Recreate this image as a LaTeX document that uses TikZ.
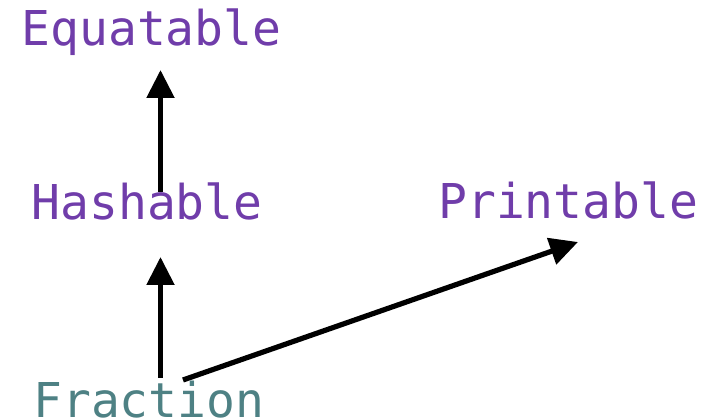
\documentclass[tikz,border=0pt]{standalone}
\usepackage{fontspec}
\newfontfamily\codefont{DejaVu Sans Mono}
\usetikzlibrary{arrows.meta}
\definecolor{protopurple}{HTML}{703DAA}
\definecolor{typeteal}{HTML}{4E8184}
\begin{document}
\begin{tikzpicture}[x=1pt,y=1pt,
  lbl/.style={anchor=base west, inner sep=0pt, outer sep=0pt, font=\codefont\fontsize{48}{56}\selectfont},
  proto/.style={lbl, text=protopurple},
  typ/.style={lbl, text=typeteal},
  arr/.style={line width=5.2pt, -{Triangle[length=28pt,width=27pt]}}]
\useasboundingbox (0,0) rectangle (713,418);
\node[proto] (E) at (21.5,372) {Equatable};
\node[proto] (H) at (31.5,198) {Hashable};
\node[proto] (P) at (438.3,199) {Printable};
\node[typ]   (F) at (33.3,0) {Fraction};
\draw[arr] ([shift={(129pt,28pt)}]H.base west) -- ([shift={(139pt,-24pt)}]E.base west);
\draw[arr] ([shift={(127.2pt,40pt)}]F.base west) -- ([shift={(129pt,-37pt)}]H.base west);
\draw[arr] ([shift={(149.7pt,38pt)}]F.base west) -- ([shift={(139.7pt,-23pt)}]P.base west);
\end{tikzpicture}
\end{document}
